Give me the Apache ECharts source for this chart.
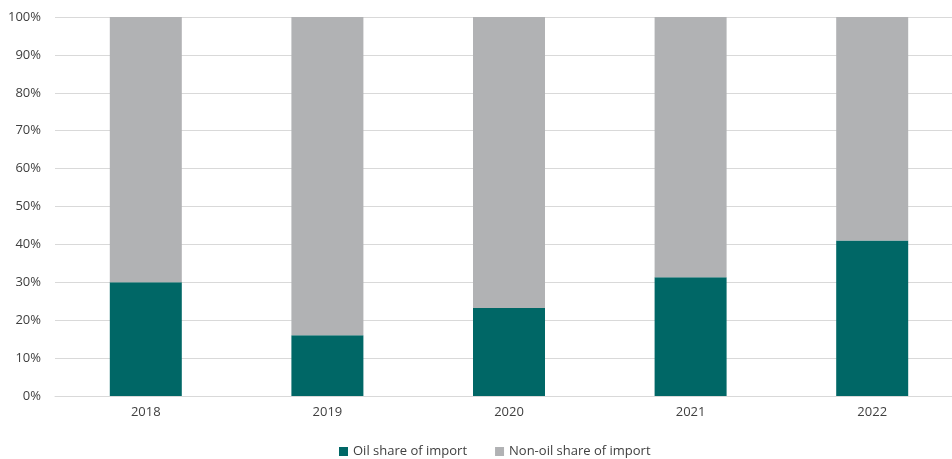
<!DOCTYPE html>
<html>
<head>
<meta charset="utf-8">
<script src="https://cdn.jsdelivr.net/npm/echarts@6/dist/echarts.min.js"></script>
<style>
  html, body { margin: 0; padding: 0; background: #fff; overflow: hidden; }
  /* plot area runs a little past the right edge, like the original */
  #chart { width: 963px; height: 459px; }
</style>
</head>
<body>
<div id="chart"></div>
<script>
// years on the x axis
const years = ["2018", "2019", "2020", "2021", "2022"];
// oil share of import, in percent
const oilShare = [30, 16, 23.2, 31.3, 41];
// non-oil share, in percent
const nonOilShare = [70, 84, 76.8, 68.7, 59];

const chart = echarts.init(document.getElementById("chart"));
const textColor = "#404040";
const font = "'Open Sans', 'Noto Sans', sans-serif";

let option = {
  animation: false,
  textStyle: { fontFamily: font },
  legend: {
    top: 440,
    left: 334,
    itemWidth: 9,
    itemHeight: 9,
    itemGap: 28,
    icon: "rect",
    textStyle: { color: textColor, fontSize: 13, fontFamily: font },
    data: ["Oil share of import", "Non-oil share of import"],
  },
  grid: {
    left: 55,
    top: 17,
    right: 0,
    height: 379,
    containLabel: false,
  },
  xAxis: {
    type: "category",
    data: years,
    axisTick: { show: false },
    axisLine: { lineStyle: { color: "#D9D9D9" } },
    axisLabel: { color: textColor, fontSize: 13, margin: 10, fontFamily: font },
  },
  yAxis: {
    type: "value",
    min: 0,
    max: 100,
    interval: 10,
    axisLabel: {
      color: textColor,
      fontSize: 13,
      margin: 14,
      fontFamily: font,
      formatter: "{value}%",
    },
    splitLine: { lineStyle: { color: "#D9D9D9", width: 1 } },
    axisLine: { show: false },
    axisTick: { show: false },
  },
  series: [
    {
      name: "Oil share of import",
      type: "bar",
      stack: "total",
      barWidth: 72,
      data: oilShare,
      itemStyle: { color: "#006766" },
    },
    {
      name: "Non-oil share of import",
      type: "bar",
      stack: "total",
      barWidth: 72,
      data: nonOilShare,
      itemStyle: { color: "#B1B2B4" },
    },
  ],
};
chart.setOption(option);
</script>
</body>
</html>
